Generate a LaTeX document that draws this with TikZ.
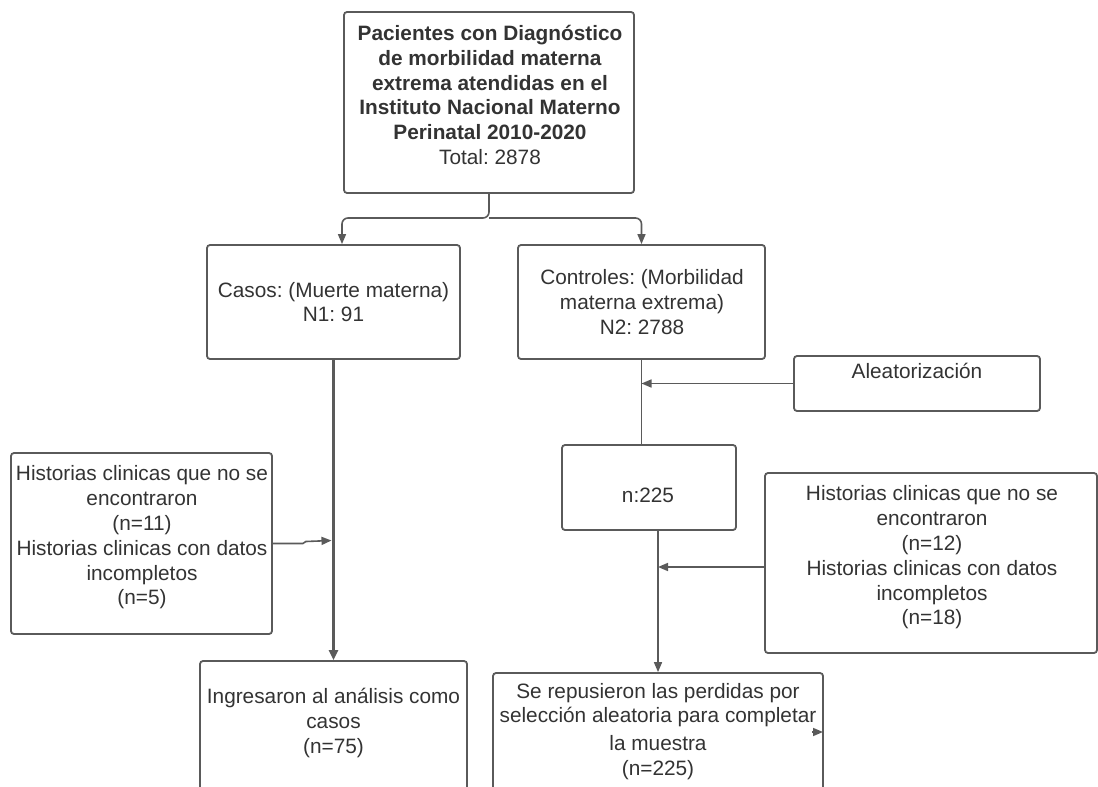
\documentclass[tikz,border=0pt]{standalone}
\usepackage{fontspec}
\setmainfont{Liberation Sans}
\usetikzlibrary{arrows.meta,calc}
\definecolor{lineg}{HTML}{5A5A5A}
\definecolor{textg}{HTML}{333333}
\frenchspacing
\begin{document}
\begin{tikzpicture}[x=1pt,y=-1pt,
  box/.style={draw=lineg, line width=1.8pt, rounded corners=3pt, fill=white, rectangle, inner sep=0pt},
  txt/.style={text=textg, align=center, inner sep=0pt, font=\fontsize{20.8pt}{24.8pt}\selectfont\frenchspacing},
  conn/.style={draw=lineg, line width=1.6pt},
  arr/.style={conn, -{Triangle[length=10pt,width=8pt]}},
]
\useasboundingbox (0,0) rectangle (1098,787);
\fill[white] (0,0) rectangle (1098,787);
\clip (0,0) rectangle (1098,787);

% boxes
\node[box, minimum width=290pt, minimum height=181pt] (top)   at (489,102.5) {};
\node[box, minimum width=253pt, minimum height=114pt] (casos) at (333.5,302) {};
\node[box, minimum width=247pt, minimum height=114pt] (ctrl)  at (641.5,302) {};
\node[box, minimum width=246pt, minimum height=55pt]  (alea)  at (917,383.5) {};
\node[box, minimum width=174pt, minimum height=85pt]  (n225)  at (649,487.5) {};
\node[box, minimum width=261pt, minimum height=181pt] (lhist) at (141.5,543.5) {};
\node[box, minimum width=332pt, minimum height=180pt] (rhist) at (931,563) {};
\node[box, minimum width=267pt, minimum height=139pt] (ing)   at (333.5,730.5) {};
\node[box, minimum width=330pt, minimum height=127pt] (bot)   at (658,736.5) {};

% texts
\node[txt] (ttop) at (490,95) {\textbf{Pacientes con Diagnóstico}\\\textbf{de morbilidad materna}\\\textbf{extrema atendidas en el}\\\textbf{Instituto Nacional Materno}\\\textbf{Perinatal 2010-2020}\\Total: 2878};
\node[txt] (tcasos) at (333.5,302) {Casos: (Muerte materna)\\N1: 91};
\node[txt] (tctrl) at (642,302) {Controles: (Morbilidad\\materna extrema)\\N2: 2788};
\node[txt, anchor=base] (talea) at (917,378.5) {Aleatorización};
\node[txt, anchor=base] (tn) at (648,502.5) {n:225};
\node[txt] (tlh) at (142,537.5) {Historias clinicas que no se\\encontraron\\(n=11)\\Historias clinicas con datos\\incompletos\\(n=5)};
\node[txt] (trh) at (932,557.5) {Historias clinicas que no se\\encontraron\\(n=12)\\Historias clinicas con datos\\incompletos\\(n=18)};
\node[txt] (ting) at (333.5,723) {Ingresaron al análisis como\\casos\\(n=75)};
\node[txt] (tbot) at (658,731.5) {Se repusieron las perdidas por\\selección aleatoria para completar\\[3pt]la muestra\\(n=225)};

% connectors
\coordinate (split) at (489,218);
\draw[arr, rounded corners=6pt] (top.south) -- (split) -| ([xshift=8.5pt]casos.north);
\draw[arr, rounded corners=6pt] (split) -| (ctrl.north);
\draw[conn, line width=3pt, -{Triangle[length=10pt,width=9pt]}] (casos.south) -- (ing.north);
\coordinate (jl) at (331.5,540.5);
\draw[arr] (lhist.east) -- ++(30pt,0) -- ++(3pt,2pt) -- (jl);
\draw[conn] (ctrl.south) -- (ctrl.south |- n225.north);
\draw[arr] (alea.west) -- (alea.west -| ctrl.south);
\draw[arr] (n225.south -| bot.north) -- (bot.north);
\draw[arr] ([yshift=-4pt]rhist.west) -- ([yshift=-4pt]rhist.west -| bot.north);
\coordinate (tipa) at (812,732);
\coordinate (tipb) at (823,732);
\draw[arr] (tipa) -- (tipb);
\end{tikzpicture}
\end{document}
